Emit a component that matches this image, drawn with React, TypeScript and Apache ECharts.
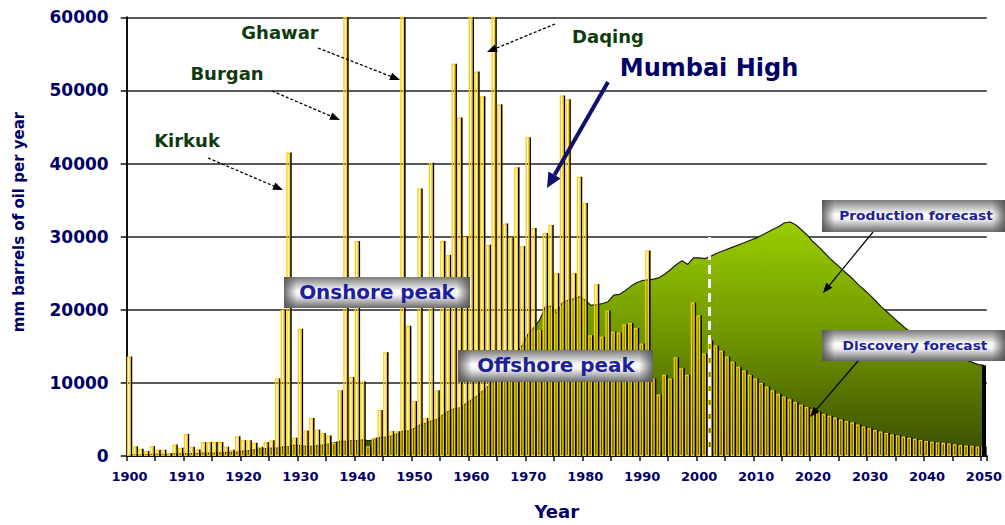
import React, { useEffect, useRef } from "react";
import * as echarts from "echarts";

// ---------- DATA ----------
const firstYear = 1900;
const lastYear = 2050;
const years: string[] = [];
for (let y = firstYear; y <= lastYear; y++) years.push(String(y));

// Discoveries (mm barrels per year), 1900-2001
const discoveryHistory = [
  13600, 1350, 1000, 680, 1350, 860, 860, 360, 1580, 1130,
  3020, 1260, 900, 1900, 1900, 1900, 1900, 1260, 860, 2700,
  2170, 2170, 1800, 1260, 1900, 2170, 10600, 20000, 41500, 2500,
  17400, 3500, 5200, 3600, 3150, 2800, 1800, 9000, 66000, 10800,
  29400, 10200, 1350, 2500, 6300, 14200, 3400, 3400, 75000, 17800,
  7500, 36600, 5200, 40100, 9000, 29400, 27500, 53650, 46300, 30000,
  62000, 52600, 49200, 28900, 63000, 48100, 31800, 29900, 39500, 28700,
  43600, 31200, 17200, 30500, 31600, 25000, 49300, 48800, 25000, 38200,
  34600, 16500, 23500, 16300, 19900, 17000, 16900, 18000, 18200, 17500,
  15400, 28100, 10600, 8400, 11100, 10600, 13500, 12000, 11100, 21000,
  19200, 14000,
];
// Discovery forecast, 2002-2050
const discoveryForecast = [
  15800, 15100, 14400, 13600, 12900, 12200, 11700, 11100, 10600, 10000,
  9500, 9000, 8500, 8100, 7750, 7400, 7000, 6700, 6400, 6050,
  5750, 5500, 5250, 5000, 4800, 4600, 4300, 4050, 3800, 3550,
  3350, 3150, 2950, 2800, 2650, 2500, 2350, 2200, 2050, 1950,
  1850, 1800, 1700, 1600, 1500, 1450, 1400, 1300, 1300,
];
const discoveries = [...discoveryHistory, ...discoveryForecast];

// Production (history + forecast), 1900-2050
const production = [
  150, 170, 180, 200, 220, 220, 215, 260, 285, 300,
  330, 345, 350, 385, 410, 430, 460, 500, 505, 555,
  690, 765, 860, 1010, 1010, 1070, 1100, 1260, 1330, 1490,
  1410, 1370, 1310, 1440, 1520, 1650, 1790, 2040, 1990, 2090,
  2150, 2220, 2090, 2260, 2590, 2590, 2750, 3020, 3430, 3400,
  3800, 4280, 4500, 4800, 5000, 5630, 6130, 6440, 6600, 7130,
  7670, 8190, 8880, 9540, 10310, 11060, 12020, 12900, 14100, 15200,
  16700, 17600, 18600, 20400, 20500, 19500, 21000, 21300, 21500, 21800,
  21300, 20600, 20700, 20850, 21100, 22000, 22100, 22600, 23200, 23700,
  24000, 24100, 24200, 24400, 24900, 25500, 26200, 26700, 26200, 27100,
  27100, 27000, 27300, 27700, 28000, 28300, 28600, 28900, 29200, 29500,
  29800, 30200, 30600, 31000, 31400, 31900, 32000, 31600, 30900, 30200,
  29300, 28600, 27800, 27000, 26300, 25600, 24900, 24200, 23400, 22700,
  22000, 21200, 20400, 19700, 19000, 18300, 17600, 17000, 16400, 15800,
  15300, 14900, 14500, 14100, 13800, 13500, 13300, 13100, 12800, 12500,
  12400,
];

const forecastStartYear = "2002";
const forecastMarkerTop = 41000;
const yMax = 60000;
const yStep = 10000;

// ---------- STYLE ----------
const NAVY = "#000066";
const DKGREEN = "#0d3b0d";
const BOXTEXT = "#1f1f99";
const FONT = '"DejaVu Sans", Verdana, sans-serif';

function arrow(
  x1: number, y1: number, x2: number, y2: number,
  color: string, width: number, dash: number[] | null,
  headLen: number, headW: number
) {
  const dx = x2 - x1, dy = y2 - y1;
  const len = Math.sqrt(dx * dx + dy * dy);
  const ux = dx / len, uy = dy / len;
  const px = -uy, py = ux;
  const bx = x2 - ux * headLen, by = y2 - uy * headLen;
  return [
    {
      type: "line",
      z: 20,
      shape: { x1, y1, x2: bx, y2: by },
      style: { stroke: color, lineWidth: width, lineDash: dash || undefined },
    },
    {
      type: "polygon",
      z: 20,
      shape: {
        points: [
          [x2, y2],
          [bx + px * headW, by + py * headW],
          [bx - px * headW, by - py * headW],
        ],
      },
      style: { fill: color },
    },
  ];
}

function label(text: string, x: number, y: number, size: number, color: string, weight = "bold", scaleX = 1, rotation = 0) {
  return {
    type: "text",
    z: 20,
    x,
    y,
    scaleX,
    rotation,
    style: {
      text,
      x: 0,
      y: 0,
      fill: color,
      font: `${weight} ${size}px ${FONT}`,
      align: "center",
      verticalAlign: "middle",
      textAlign: "center",
      textVerticalAlign: "middle",
    },
  };
}

function box(x: number, y: number, w: number, h: number) {
  return [
    {
      type: "rect",
      z: 15,
      shape: { x, y, width: w, height: h },
      style: {
        fill: new echarts.graphic.LinearGradient(0, 0, 0, 1, [
          { offset: 0, color: "#7a7a7a" },
          { offset: 0.45, color: "#ffffff" },
          { offset: 0.6, color: "#f2f2f2" },
          { offset: 1, color: "#6a6a6a" },
        ]),
      },
    },
    {
      type: "rect",
      z: 16,
      shape: { x, y, width: w, height: h },
      style: {
        fill: new echarts.graphic.LinearGradient(0, 0, 1, 0, [
          { offset: 0, color: "rgba(80,80,80,0.85)" },
          { offset: 0.07, color: "rgba(80,80,80,0)" },
          { offset: 0.93, color: "rgba(80,80,80,0)" },
          { offset: 1, color: "rgba(80,80,80,0.85)" },
        ]),
      },
    },
  ];
}

export default function App() {
  const ref = useRef<HTMLDivElement>(null);

  useEffect(() => {
    if (!ref.current) return;
    const chart = echarts.init(ref.current, null, { renderer: "svg" });

    const graphics: any[] = [
      label("mm barrels of oil per year", 19, 222, 15, NAVY, "bold", 1, Math.PI / 2),
      label("Kirkuk", 187, 140, 18, DKGREEN),
      ...arrow(208, 158, 283, 190, "#000", 1.3, [3, 2], 10, 4),
      label("Burgan", 227, 73, 18, DKGREEN),
      ...arrow(272, 91, 340, 120, "#000", 1.3, [3, 2], 10, 4),
      label("Ghawar", 280, 32, 18, DKGREEN),
      ...arrow(318, 48, 400, 80, "#000", 1.3, [3, 2], 10, 4),
      label("Daqing", 608, 36, 18, DKGREEN),
      ...arrow(555, 24, 487, 52, "#000", 1.3, [3, 2], 10, 4),
      label("Mumbai High", 709, 68, 24, NAVY),
      ...arrow(608, 82, 547, 188, "#10106e", 4, null, 15, 7),
      ...box(284, 277, 186, 31),
      label("Onshore peak", 377, 293, 19, BOXTEXT, "bold", 1.05),
      ...box(458, 350, 195, 32),
      label("Offshore peak", 556, 366, 19, BOXTEXT, "bold", 1.05),
      ...box(822, 200, 183, 32),
      label("Production forecast", 916, 216, 12, BOXTEXT, "bold", 1.15),
      ...arrow(873, 232, 823, 293, "#000", 1.2, null, 10, 4),
      ...box(822, 330, 183, 31),
      label("Discovery forecast", 915, 346, 12, BOXTEXT, "bold", 1.15),
      ...arrow(858, 361, 810, 417, "#000", 1.2, null, 10, 4),
    ];

    const option: any = {
      animation: false,
      backgroundColor: "#ffffff",
      grid: { left: 126.7, right: 6.3, top: 17.3, bottom: 65.5, containLabel: false },
      xAxis: {
        type: "category",
        data: years,
        boundaryGap: true,
        name: "Year",
        nameLocation: "middle",
        nameGap: 46,
        nameTextStyle: { color: NAVY, fontSize: 18, fontWeight: "bold", fontFamily: FONT },
        axisLine: { lineStyle: { color: "#111", width: 2 } },
        axisTick: { show: true, interval: 4, length: 5, lineStyle: { color: "#111", width: 1.5 } },
        axisLabel: {
          interval: 9,
          color: NAVY,
          fontSize: 13,
          fontWeight: "bold",
          fontFamily: FONT,
          margin: 14,
        },
        splitLine: { show: false },
      },
      yAxis: {
        type: "value",
        min: 0,
        max: yMax,
        interval: yStep,
        axisLine: { show: true, lineStyle: { color: "#111", width: 2 } },
        axisTick: { show: true, length: 6, lineStyle: { color: "#111", width: 1.5 } },
        axisLabel: {
          color: NAVY,
          fontSize: 17,
          fontWeight: "bold",
          fontFamily: FONT,
          margin: 18,
          formatter: (v: number) => String(v),
        },
        splitLine: { show: true, lineStyle: { color: "#222", width: 1.5 } },
      },
      series: [
        {
          name: "Production",
          type: "line",
          data: production,
          symbol: "none",
          z: 1,
          lineStyle: { color: "#1a1a1a", width: 1.2 },
          areaStyle: {
            opacity: 1,
            color: new echarts.graphic.LinearGradient(0, 0, 0, 1, [
              { offset: 0, color: "#9acd00" },
              { offset: 0.5, color: "#6f9400" },
              { offset: 1, color: "#3a4d00" },
            ]),
          },
          markLine: {
            silent: true,
            symbol: ["none", "none"],
            label: { show: false },
            lineStyle: { color: "#000", width: 4, type: "solid" },
            data: [[
              { coord: [years[years.length - 1], 0] },
              { coord: [years[years.length - 1], production[production.length - 1]] },
            ]],
          },
        },
        {
          name: "Discoveries",
          type: "bar",
          data: discoveries,
          barWidth: 3.8,
          barGap: "0%",
          clip: true,
          z: 3,
          itemStyle: { color: "rgba(0,0,0,0)", borderColor: "#FFCC00", borderWidth: 1.3 },
          markLine: {
            silent: true,
            symbol: ["none", "none"],
            label: { show: false },
            lineStyle: { color: "#ffffff", width: 3, type: [9, 5] },
            data: [[
              { coord: [forecastStartYear, 0] },
              { coord: [forecastStartYear, forecastMarkerTop] },
            ]],
          },
        },
        {
          name: "Discoveries shadow",
          type: "bar",
          data: discoveries,
          barWidth: 1.6,
          barGap: "0%",
          clip: true,
          z: 2,
          itemStyle: { color: "#000000" },
        },
      ],
      graphic: graphics,
    };

    chart.setOption(option);
    return () => chart.dispose();
  }, []);

  return (
    <div
      ref={ref}
      style={{ position: "fixed", left: 0, top: 0, width: 1005, height: 525, background: "#fff" }}
    />
  );
}
